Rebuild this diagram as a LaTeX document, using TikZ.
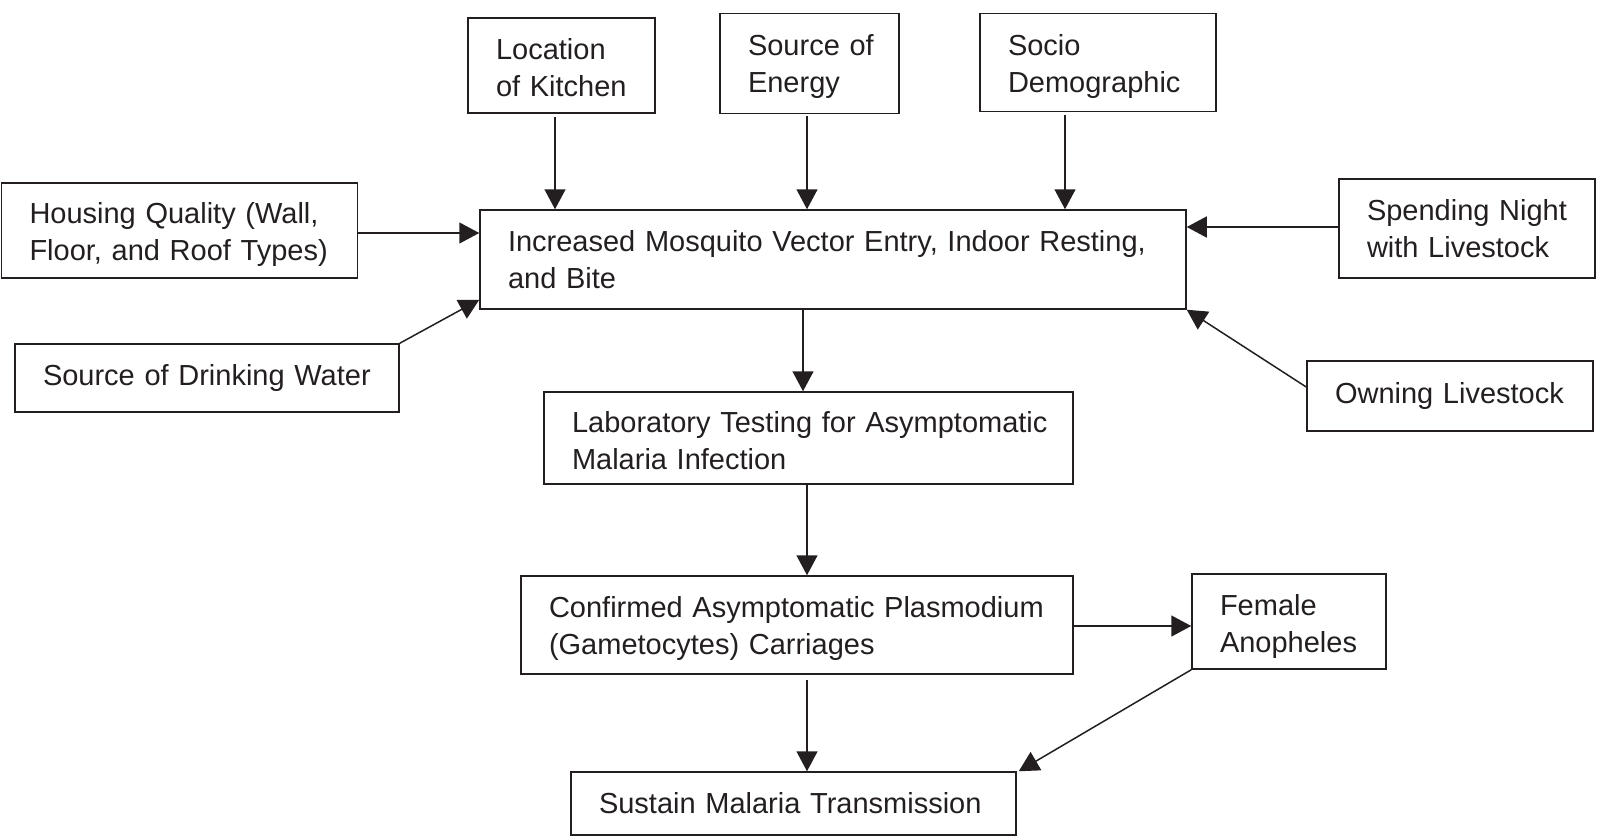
\documentclass[tikz,border=0pt]{standalone}
\usepackage{fontspec}
\setmainfont{Liberation Sans}
\usetikzlibrary{arrows.meta}
\definecolor{ink}{HTML}{231F20}
\newcommand{\mbx}[1]{\mbox{#1}}
\newcommand{\up}[1]{\rule{0pt}{#1pt}}
\begin{document}
\begin{tikzpicture}[x=1pt,y=-1pt,
  box/.style={draw=ink, line width=1.5pt, text=ink, inner xsep=28pt, inner ysep=0pt,
    align=left, font=\fontsize{29}{37}\selectfont},
  arr/.style={draw=ink, line width=1.5pt, -{Triangle[length=20pt,width=21pt]}}]
\useasboundingbox (0,0) rectangle (1600,836);
\node[box, text width=131pt, minimum height=95pt] (kitchen) at (561.5,65.5) {\mbx{\up{25}Location}\\\mbx{of Kitchen}};
\node[box, text width=123pt, minimum height=100pt] (energy) at (809.5,63.5) {\mbx{\up{27}Source of}\\\mbx{Energy}};
\node[box, text width=180pt, minimum height=98pt] (socio) at (1098,62.5) {\mbx{\up{29}Socio}\\\mbx{Demographic}};
\node[box, text width=300pt, minimum height=95pt] (housing) at (179.5,230.5) {\mbx{\up{30}Housing Quality (Wall,}\\\mbx{Floor, and Roof Types)}};
\node[box, text width=650pt, minimum height=99pt] (main) at (833,259.5) {\mbx{Increased Mosquito Vector Entry, Indoor Resting,}\\\mbx{and Bite}};
\node[box, text width=200pt, minimum height=99pt] (spending) at (1467,228.5) {\mbx{Spending Night}\\\mbx{with Livestock}};
\node[box, text width=328pt, minimum height=68pt] (drinking) at (207,378) {\mbx{Source of Drinking Water}};
\node[box, text width=230pt, minimum height=70pt] (owning) at (1450,396) {\mbx{Owning Livestock}};
\node[box, text width=473pt, minimum height=92pt] (lab) at (808.5,438) {\mbx{\up{27}Laboratory Testing for Asymptomatic}\\\mbx{Malaria Infection}};
\node[box, text width=496pt, minimum height=98pt] (confirmed) at (797,625) {\mbx{\up{27}Confirmed Asymptomatic Plasmodium}\\\mbx{(Gametocytes) Carriages}};
\node[box, text width=138pt, minimum height=95pt] (female) at (1289,621.5) {\mbx{\up{30}Female}\\\mbx{Anopheles}};
\node[box, text width=389pt, minimum height=63pt] (sustain) at (793.5,803.5) {\mbx{Sustain Malaria Transmission}};

\draw[arr] ([xshift=-6.5pt,yshift=-3pt]kitchen.south) -- ([xshift=-6.5pt]kitchen.south |- main.north);
\draw[arr] ([xshift=-2.5pt,yshift=-2pt]energy.south) -- ([xshift=-2.5pt]energy.south |- main.north);
\draw[arr] ([xshift=-33pt,yshift=-3pt]socio.south) -- ([xshift=-33pt]socio.south |- main.north);
\draw[arr] ([yshift=-2.5pt]housing.east) -- ([yshift=-2.5pt]housing.east -| main.west);
\draw[arr] ([yshift=1.5pt]spending.west) -- ([yshift=1.5pt]spending.west -| main.east);
\draw[arr] (drinking.north east) -- ([yshift=10pt]main.south west);
\draw[arr] ([yshift=9pt]owning.west) -- (main.south east);
\draw[arr] ([xshift=-30pt]main.south) -- ([xshift=-30pt]main.south |- lab.north);
\draw[arr] ([xshift=-1.5pt]lab.south) -- ([xshift=-1.5pt]lab.south |- confirmed.north);
\draw[arr] ([yshift=-1pt]confirmed.east) -- ([yshift=-1pt]confirmed.east -| female.west);
\draw[arr] ([xshift=10pt,yshift=-5pt]confirmed.south) -- ([xshift=10pt]confirmed.south |- sustain.north);
\draw[arr] (female.south west) -- ([xshift=2pt]sustain.north east);
\end{tikzpicture}
\end{document}
